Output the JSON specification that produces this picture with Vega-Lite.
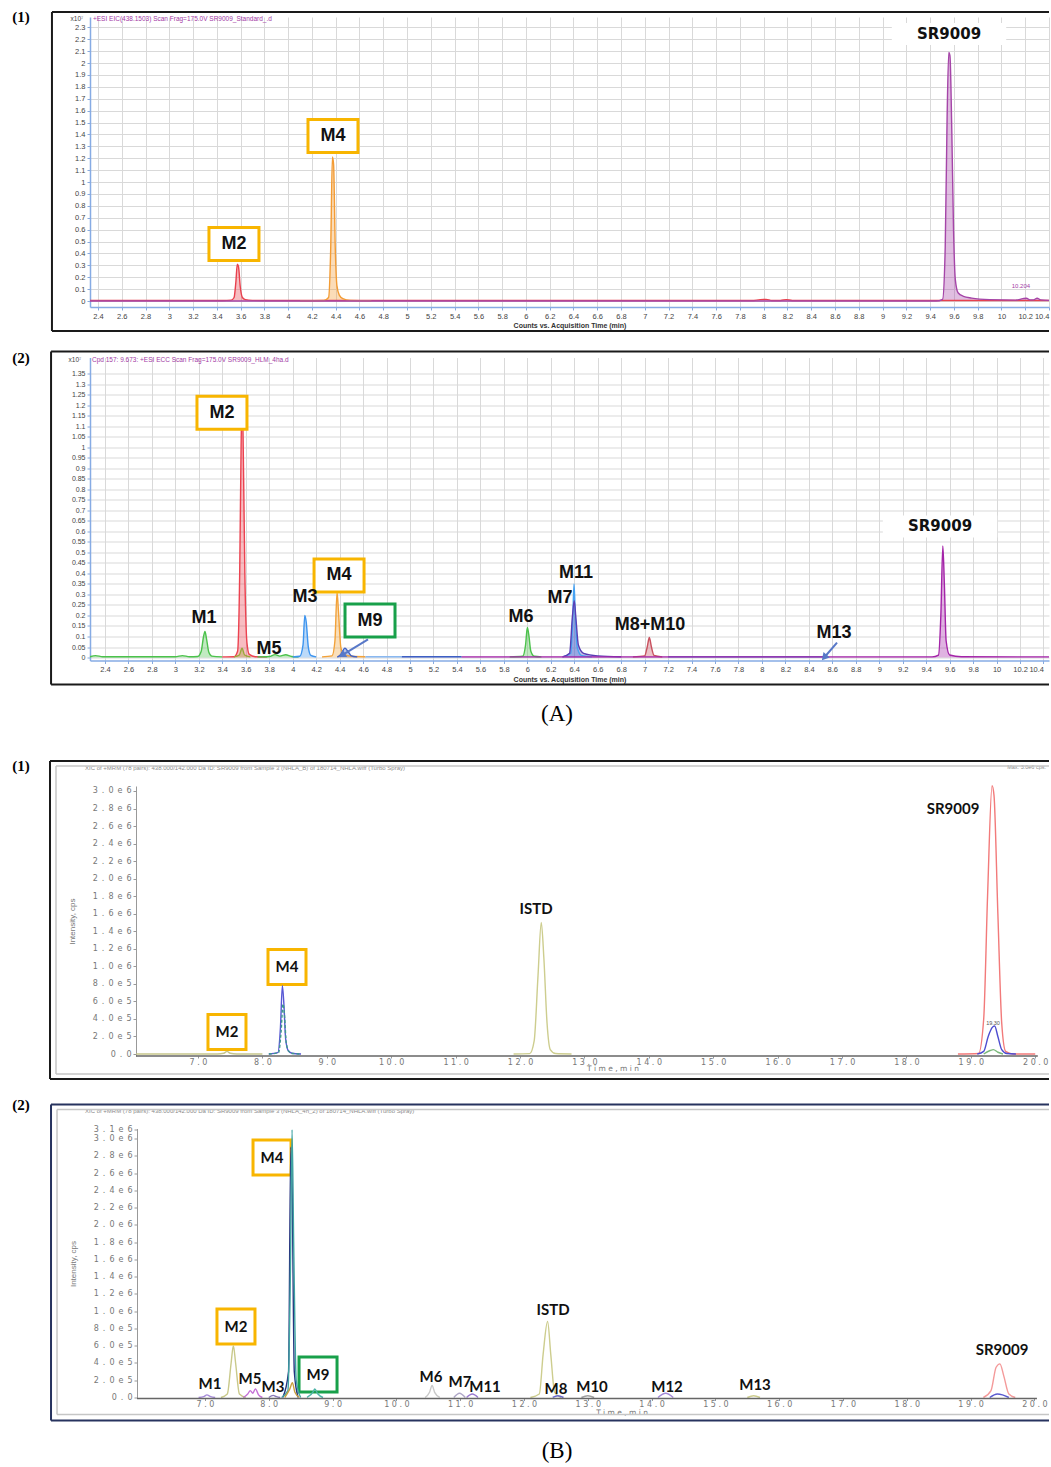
{
  "$schema": "https://vega.github.io/schema/vega-lite/v6.json",
  "background": "white",
  "padding": {"left": 12, "top": 10, "right": 0, "bottom": 0},
  "config": {
    "view": {"stroke": null},
    "font": "Liberation Sans",
    "axis": {"labelFont": "Liberation Sans", "titleFont": "Liberation Sans", "labelOverlap": false}
  },
  "spacing": 17.5,
  "resolve": {"scale": {"x": "independent", "y": "independent", "color": "independent", "stroke": "independent"}},
  "datasets": {
    "a1tr": [
      {"s":"M2","t":2.333,"v":0.004},{"s":"M2","t":3.45,"v":0.004},{"s":"M2","t":3.52,"v":0.008},{"s":"M2","t":3.545,"v":0.03},{"s":"M2","t":3.56,"v":0.16},{"s":"M2","t":3.572,"v":0.31},{"s":"M2","t":3.582,"v":0.29},{"s":"M2","t":3.597,"v":0.12},{"s":"M2","t":3.615,"v":0.03},{"s":"M2","t":3.64,"v":0.012},{"s":"M2","t":3.7,"v":0.006},{"s":"M2","t":3.9,"v":0.004},{"s":"M2","t":7.9,"v":0.004},{"s":"M2","t":7.97,"v":0.012},{"s":"M2","t":8.02,"v":0.014},{"s":"M2","t":8.07,"v":0.005},{"s":"M2","t":8.14,"v":0.005},{"s":"M2","t":8.19,"v":0.012},{"s":"M2","t":8.24,"v":0.005},{"s":"M2","t":10.4,"v":0.004},
      {"s":"M4","t":4.1,"v":0.003},{"s":"M4","t":4.3,"v":0.005},{"s":"M4","t":4.34,"v":0.03},{"s":"M4","t":4.358,"v":0.45},{"s":"M4","t":4.372,"v":1.21},{"s":"M4","t":4.382,"v":1.15},{"s":"M4","t":4.396,"v":0.45},{"s":"M4","t":4.41,"v":0.13},{"s":"M4","t":4.43,"v":0.05},{"s":"M4","t":4.46,"v":0.02},{"s":"M4","t":4.52,"v":0.006},{"s":"M4","t":4.7,"v":0.003},
      {"s":"SR9009","t":2.333,"v":0},{"s":"SR9009","t":9.45,"v":0},{"s":"SR9009","t":9.505,"v":0.015},{"s":"SR9009","t":9.527,"v":0.45},{"s":"SR9009","t":9.543,"v":1.55},{"s":"SR9009","t":9.557,"v":2.09},{"s":"SR9009","t":9.567,"v":2.06},{"s":"SR9009","t":9.582,"v":1.45},{"s":"SR9009","t":9.597,"v":0.6},{"s":"SR9009","t":9.612,"v":0.18},{"s":"SR9009","t":9.635,"v":0.07},{"s":"SR9009","t":9.68,"v":0.04},{"s":"SR9009","t":9.75,"v":0.025},{"s":"SR9009","t":9.9,"v":0.012},{"s":"SR9009","t":10.12,"v":0.008},{"s":"SR9009","t":10.18,"v":0.02},{"s":"SR9009","t":10.21,"v":0.024},{"s":"SR9009","t":10.24,"v":0.01},{"s":"SR9009","t":10.27,"v":0.01},{"s":"SR9009","t":10.3,"v":0.024},{"s":"SR9009","t":10.33,"v":0.01},{"s":"SR9009","t":10.4,"v":0.006}
    ],
    "a1lab": [
      {"label":"M2","t":3.544,"v":0.479,"group":"major"},
      {"label":"M4","t":4.377,"v":1.387,"group":"major"},
      {"label":"SR9009","t":9.559,"v":2.244,"group":"parent"}
    ],
    "a1note": [
      {"text":"+ESI EIC(438.1503) Scan Frag=175.0V SR9009_Standard_.d","t":2.358,"v":2.37,"kind":"header"},
      {"text":"x10⁷","t":2.224,"v":2.37,"kind":"scale"},
      {"text":"10.204","t":10.164,"v":0.126,"kind":"rt"}
    ],
    "a2tr": [
      {"s":"M1","t":2.272,"v":0.004},{"s":"M1","t":2.32,"v":0.009},{"s":"M1","t":2.38,"v":0.004},{"s":"M1","t":3.0,"v":0.004},{"s":"M1","t":3.06,"v":0.009},{"s":"M1","t":3.12,"v":0.004},{"s":"M1","t":3.19,"v":0.005},{"s":"M1","t":3.22,"v":0.03},{"s":"M1","t":3.24,"v":0.1},{"s":"M1","t":3.252,"v":0.124},{"s":"M1","t":3.265,"v":0.09},{"s":"M1","t":3.285,"v":0.025},{"s":"M1","t":3.31,"v":0.007},{"s":"M1","t":3.4,"v":0.003},
      {"s":"M2","t":3.4,"v":0.003},{"s":"M2","t":3.5,"v":0.004},{"s":"M2","t":3.53,"v":0.03},{"s":"M2","t":3.548,"v":0.4},{"s":"M2","t":3.56,"v":1.0},{"s":"M2","t":3.568,"v":1.24},{"s":"M2","t":3.577,"v":1.05},{"s":"M2","t":3.592,"v":0.4},{"s":"M2","t":3.61,"v":0.07},{"s":"M2","t":3.63,"v":0.015},{"s":"M2","t":3.68,"v":0.004},{"s":"M2","t":3.78,"v":0.003},
      {"s":"M2 (2)","t":3.5,"v":0.003},{"s":"M2 (2)","t":3.545,"v":0.012},{"s":"M2 (2)","t":3.568,"v":0.045},{"s":"M2 (2)","t":3.59,"v":0.012},{"s":"M2 (2)","t":3.64,"v":0.003},
      {"s":"M5","t":3.7,"v":0.003},{"s":"M5","t":3.8,"v":0.005},{"s":"M5","t":3.85,"v":0.014},{"s":"M5","t":3.89,"v":0.007},{"s":"M5","t":3.94,"v":0.013},{"s":"M5","t":3.99,"v":0.005},{"s":"M5","t":4.05,"v":0.003},
      {"s":"M3","t":4.0,"v":0.003},{"s":"M3","t":4.06,"v":0.006},{"s":"M3","t":4.088,"v":0.06},{"s":"M3","t":4.103,"v":0.2},{"s":"M3","t":4.115,"v":0.17},{"s":"M3","t":4.133,"v":0.05},{"s":"M3","t":4.155,"v":0.01},{"s":"M3","t":4.2,"v":0.003},
      {"s":"M4","t":4.25,"v":0.003},{"s":"M4","t":4.335,"v":0.008},{"s":"M4","t":4.36,"v":0.08},{"s":"M4","t":4.378,"v":0.31},{"s":"M4","t":4.39,"v":0.22},{"s":"M4","t":4.41,"v":0.05},{"s":"M4","t":4.435,"v":0.015},{"s":"M4","t":4.5,"v":0.006},{"s":"M4","t":4.62,"v":0.004},
      {"s":"M9","t":4.38,"v":0.002},{"s":"M9","t":4.41,"v":0.015},{"s":"M9","t":4.445,"v":0.045},{"s":"M9","t":4.47,"v":0.03},{"s":"M9","t":4.5,"v":0.008},{"s":"M9","t":4.55,"v":0.003},
      {"s":"M9 (2)","t":4.62,"v":0.004},{"s":"M9 (2)","t":4.93,"v":0.004},
      {"s":"M9 (3)","t":4.93,"v":0.004},{"s":"M9 (3)","t":5.44,"v":0.004},
      {"s":"M6","t":5.85,"v":0.003},{"s":"M6","t":5.96,"v":0.006},{"s":"M6","t":5.985,"v":0.06},{"s":"M6","t":6.0,"v":0.143},{"s":"M6","t":6.012,"v":0.11},{"s":"M6","t":6.03,"v":0.03},{"s":"M6","t":6.06,"v":0.006},{"s":"M6","t":6.12,"v":0.003},
      {"s":"M11","t":6.3,"v":0.003},{"s":"M11","t":6.37,"v":0.02},{"s":"M11","t":6.388,"v":0.2},{"s":"M11","t":6.398,"v":0.35},{"s":"M11","t":6.408,"v":0.22},{"s":"M11","t":6.425,"v":0.05},{"s":"M11","t":6.46,"v":0.01},{"s":"M11","t":6.55,"v":0.003},
      {"s":"M7","t":6.3,"v":0.003},{"s":"M7","t":6.36,"v":0.02},{"s":"M7","t":6.385,"v":0.2},{"s":"M7","t":6.4,"v":0.27},{"s":"M7","t":6.415,"v":0.18},{"s":"M7","t":6.435,"v":0.06},{"s":"M7","t":6.48,"v":0.02},{"s":"M7","t":6.6,"v":0.008},{"s":"M7","t":6.8,"v":0.004},
      {"s":"M8+M10","t":6.9,"v":0.003},{"s":"M8+M10","t":7.0,"v":0.008},{"s":"M8+M10","t":7.022,"v":0.05},{"s":"M8+M10","t":7.04,"v":0.095},{"s":"M8+M10","t":7.058,"v":0.05},{"s":"M8+M10","t":7.08,"v":0.01},{"s":"M8+M10","t":7.15,"v":0.003},
      {"s":"M13","t":7.2,"v":0.004},{"s":"M13","t":8.56,"v":0.004},
      {"s":"SR9009","t":5.44,"v":0.003},{"s":"SR9009","t":9.45,"v":0.003},{"s":"SR9009","t":9.505,"v":0.012},{"s":"SR9009","t":9.525,"v":0.2},{"s":"SR9009","t":9.542,"v":0.53},{"s":"SR9009","t":9.555,"v":0.35},{"s":"SR9009","t":9.57,"v":0.08},{"s":"SR9009","t":9.6,"v":0.012},{"s":"SR9009","t":9.7,"v":0.004},{"s":"SR9009","t":10.447,"v":0.003}
    ],
    "a2lab": [
      {"label":"M2","t":3.397,"v":1.164,"group":"major"},
      {"label":"M4","t":4.395,"v":0.39,"group":"major"},
      {"label":"M9","t":4.659,"v":0.176,"group":"novel"},
      {"label":"M1","t":3.244,"v":0.19,"group":"other"},
      {"label":"M3","t":4.105,"v":0.29,"group":"other"},
      {"label":"M5","t":3.798,"v":0.043,"group":"other"},
      {"label":"M6","t":5.946,"v":0.195,"group":"other"},
      {"label":"M11","t":6.415,"v":0.4,"group":"other"},
      {"label":"M7","t":6.279,"v":0.285,"group":"other"},
      {"label":"M8+M10","t":7.046,"v":0.157,"group":"other"},
      {"label":"M13","t":8.615,"v":0.119,"group":"other"},
      {"label":"SR9009","t":9.518,"v":0.623,"group":"parent"}
    ],
    "a2note": [
      {"text":"Cpd 157: 9.673: +ESI ECC Scan Frag=175.0V SR9009_HLM_4ha.d","t":2.289,"v":1.416,"kind":"header"},
      {"text":"x10⁷","t":2.144,"v":1.416,"kind":"scale"}
    ],
    "a2arrow": [
      {"to":"M9","t":4.642,"v":0.086,"t2":4.429,"v2":0.014},
      {"to":"M13","t":8.64,"v":0.071,"t2":8.538,"v2":0.005}
    ],
    "b1tr": [
      {"s":"M2","t":6.04,"v":0},{"s":"M2","t":7.3,"v":0},{"s":"M2","t":7.4,"v":8000},{"s":"M2","t":7.45,"v":30000},{"s":"M2","t":7.5,"v":8000},{"s":"M2","t":7.6,"v":0},{"s":"M2","t":8.0,"v":0},
      {"s":"M4","t":8.1,"v":0},{"s":"M4","t":8.24,"v":15000},{"s":"M4","t":8.28,"v":300000},{"s":"M4","t":8.31,"v":780000},{"s":"M4","t":8.335,"v":550000},{"s":"M4","t":8.36,"v":180000},{"s":"M4","t":8.4,"v":40000},{"s":"M4","t":8.46,"v":8000},{"s":"M4","t":8.6,"v":0},
      {"s":"M4 (2)","t":8.1,"v":0},{"s":"M4 (2)","t":8.25,"v":15000},{"s":"M4 (2)","t":8.29,"v":250000},{"s":"M4 (2)","t":8.32,"v":570000},{"s":"M4 (2)","t":8.345,"v":420000},{"s":"M4 (2)","t":8.37,"v":130000},{"s":"M4 (2)","t":8.41,"v":30000},{"s":"M4 (2)","t":8.47,"v":6000},{"s":"M4 (2)","t":8.6,"v":0},
      {"s":"ISTD","t":11.9,"v":0},{"s":"ISTD","t":12.15,"v":4000},{"s":"ISTD","t":12.22,"v":150000},{"s":"ISTD","t":12.28,"v":900000},{"s":"ISTD","t":12.33,"v":1500000},{"s":"ISTD","t":12.37,"v":1100000},{"s":"ISTD","t":12.42,"v":350000},{"s":"ISTD","t":12.47,"v":50000},{"s":"ISTD","t":12.55,"v":5000},{"s":"ISTD","t":12.8,"v":0},
      {"s":"SR9009","t":18.8,"v":0},{"s":"SR9009","t":19.12,"v":6000},{"s":"SR9009","t":19.2,"v":400000},{"s":"SR9009","t":19.26,"v":1800000},{"s":"SR9009","t":19.33,"v":3060000},{"s":"SR9009","t":19.36,"v":2950000},{"s":"SR9009","t":19.42,"v":1600000},{"s":"SR9009","t":19.48,"v":350000},{"s":"SR9009","t":19.54,"v":30000},{"s":"SR9009","t":19.65,"v":0},{"s":"SR9009","t":20.0,"v":0},
      {"s":"SR9009 (2)","t":19.1,"v":0},{"s":"SR9009 (2)","t":19.2,"v":30000},{"s":"SR9009 (2)","t":19.27,"v":200000},{"s":"SR9009 (2)","t":19.33,"v":300000},{"s":"SR9009 (2)","t":19.37,"v":320000},{"s":"SR9009 (2)","t":19.42,"v":200000},{"s":"SR9009 (2)","t":19.48,"v":50000},{"s":"SR9009 (2)","t":19.56,"v":5000},{"s":"SR9009 (2)","t":19.7,"v":0},
      {"s":"SR9009 (3)","t":19.2,"v":0},{"s":"SR9009 (3)","t":19.3,"v":40000},{"s":"SR9009 (3)","t":19.35,"v":50000},{"s":"SR9009 (3)","t":19.42,"v":20000},{"s":"SR9009 (3)","t":19.5,"v":0}
    ],
    "b1lab": [
      {"label":"M2","t":7.45,"v":251000,"group":"major"},
      {"label":"M4","t":8.382,"v":992000,"group":"major"},
      {"label":"ISTD","t":12.249,"v":1654000,"group":"other"},
      {"label":"SR9009","t":18.724,"v":2795000,"group":"other"}
    ],
    "b1note": [
      {"text":"XIC of +MRM (78 pairs): 438.000/142.000 Da ID: SR9009 from Sample 3 (NHLA_B) of 180714_NHLA.wiff (Turbo Spray)","t":5.245,"v":3262000,"kind":"header"},
      {"text":"Max. 3.0e6 cps.","t":20.168,"v":3274000,"kind":"max"},
      {"text":"19.30","t":19.345,"v":354000,"kind":"rt"},
      {"text":"T i m e ,  m i n","t":13.444,"v":-175000,"kind":"axis"}
    ],
    "b2tr": [
      {"s":"M1","t":6.9,"v":0},{"s":"M1","t":6.98,"v":10000},{"s":"M1","t":7.03,"v":30000},{"s":"M1","t":7.09,"v":10000},{"s":"M1","t":7.16,"v":0},
      {"s":"M2","t":7.25,"v":0},{"s":"M2","t":7.35,"v":40000},{"s":"M2","t":7.41,"v":400000},{"s":"M2","t":7.445,"v":600000},{"s":"M2","t":7.48,"v":400000},{"s":"M2","t":7.54,"v":40000},{"s":"M2","t":7.64,"v":0},
      {"s":"M5","t":7.6,"v":0},{"s":"M5","t":7.67,"v":40000},{"s":"M5","t":7.71,"v":80000},{"s":"M5","t":7.75,"v":50000},{"s":"M5","t":7.79,"v":100000},{"s":"M5","t":7.84,"v":30000},{"s":"M5","t":7.9,"v":0},
      {"s":"M3","t":8.0,"v":0},{"s":"M3","t":8.07,"v":25000},{"s":"M3","t":8.12,"v":10000},{"s":"M3","t":8.18,"v":0},
      {"s":"M4 (2)","t":8.22,"v":0},{"s":"M4 (2)","t":8.31,"v":300000},{"s":"M4 (2)","t":8.345,"v":2900000},{"s":"M4 (2)","t":8.365,"v":2500000},{"s":"M4 (2)","t":8.4,"v":300000},{"s":"M4 (2)","t":8.46,"v":0},
      {"s":"M4","t":8.2,"v":0},{"s":"M4","t":8.3,"v":80000},{"s":"M4","t":8.34,"v":1500000},{"s":"M4","t":8.365,"v":3100000},{"s":"M4","t":8.39,"v":1800000},{"s":"M4","t":8.43,"v":200000},{"s":"M4","t":8.5,"v":0},
      {"s":"M4 (3)","t":8.25,"v":0},{"s":"M4 (3)","t":8.33,"v":100000},{"s":"M4 (3)","t":8.37,"v":170000},{"s":"M4 (3)","t":8.41,"v":60000},{"s":"M4 (3)","t":8.48,"v":0},
      {"s":"M9","t":8.6,"v":0},{"s":"M9","t":8.7,"v":70000},{"s":"M9","t":8.72,"v":100000},{"s":"M9","t":8.77,"v":40000},{"s":"M9","t":8.85,"v":0},
      {"s":"M6","t":10.45,"v":0},{"s":"M6","t":10.52,"v":60000},{"s":"M6","t":10.56,"v":140000},{"s":"M6","t":10.6,"v":60000},{"s":"M6","t":10.68,"v":0},
      {"s":"M7","t":10.9,"v":0},{"s":"M7","t":10.99,"v":50000},{"s":"M7","t":11.08,"v":0},
      {"s":"M11","t":11.1,"v":0},{"s":"M11","t":11.19,"v":40000},{"s":"M11","t":11.28,"v":0},
      {"s":"ISTD","t":12.1,"v":0},{"s":"ISTD","t":12.24,"v":40000},{"s":"ISTD","t":12.3,"v":500000},{"s":"ISTD","t":12.37,"v":880000},{"s":"ISTD","t":12.42,"v":500000},{"s":"ISTD","t":12.48,"v":60000},{"s":"ISTD","t":12.58,"v":0},
      {"s":"M8","t":12.45,"v":0},{"s":"M8","t":12.53,"v":20000},{"s":"M8","t":12.62,"v":0},
      {"s":"M10","t":12.9,"v":0},{"s":"M10","t":13.0,"v":20000},{"s":"M10","t":13.1,"v":0},
      {"s":"M12","t":14.1,"v":0},{"s":"M12","t":14.22,"v":50000},{"s":"M12","t":14.34,"v":0},
      {"s":"M13","t":15.5,"v":0},{"s":"M13","t":15.6,"v":20000},{"s":"M13","t":15.7,"v":0},
      {"s":"SR9009","t":19.2,"v":0},{"s":"SR9009","t":19.32,"v":80000},{"s":"SR9009","t":19.4,"v":350000},{"s":"SR9009","t":19.46,"v":390000},{"s":"SR9009","t":19.52,"v":250000},{"s":"SR9009","t":19.6,"v":40000},{"s":"SR9009","t":19.7,"v":0},
      {"s":"SR9009 (2)","t":19.3,"v":0},{"s":"SR9009 (2)","t":19.42,"v":40000},{"s":"SR9009 (2)","t":19.5,"v":30000},{"s":"SR9009 (2)","t":19.6,"v":0}
    ],
    "b2lab": [
      {"label":"M4","t":8.051,"v":2780000,"group":"major"},
      {"label":"M2","t":7.486,"v":822000,"group":"major"},
      {"label":"M9","t":8.772,"v":266000,"group":"novel"},
      {"label":"M1","t":7.079,"v":162000,"group":"other"},
      {"label":"M5","t":7.706,"v":209000,"group":"other"},
      {"label":"M3","t":8.066,"v":116000,"group":"other"},
      {"label":"M6","t":10.543,"v":243000,"group":"other"},
      {"label":"M7","t":10.997,"v":174000,"group":"other"},
      {"label":"M11","t":11.389,"v":127000,"group":"other"},
      {"label":"ISTD","t":12.455,"v":1008000,"group":"other"},
      {"label":"M8","t":12.502,"v":93000,"group":"other"},
      {"label":"M10","t":13.066,"v":116000,"group":"other"},
      {"label":"M12","t":14.242,"v":127000,"group":"other"},
      {"label":"M13","t":15.621,"v":139000,"group":"other"},
      {"label":"SR9009","t":19.493,"v":556000,"group":"other"}
    ],
    "b2note": [
      {"text":"XIC of +MRM (78 pairs): 438.000/142.000 Da ID: SR9009 from Sample 3 (NHLA_4h_2) of 180714_NHLA.wiff (Turbo Spray)","t":5.12,"v":3313000,"kind":"header"},
      {"text":"T i m e ,  m i n","t":13.537,"v":-185000,"kind":"axis"}
    ]
  },
  "vconcat": [
    {
      "width": 959,
      "height": 290,
      "layer": [
        {"data": {"name": "a1tr"},
         "mark": {"type": "area", "interpolate": "monotone", "fillOpacity": 0.35, "line": {"strokeWidth": 1.4}},
         "encoding": {
           "x": {"field": "t", "type": "quantitative",
             "scale": {"domain": [2.333, 10.4], "nice": false, "zero": false},
             "axis": {"values": [2.4,2.6,2.8,3,3.2,3.4,3.6,3.8,4,4.2,4.4,4.6,4.8,5,5.2,5.4,5.6,5.8,6,6.2,6.4,6.6,6.8,7,7.2,7.4,7.6,7.8,8,8.2,8.4,8.6,8.8,9,9.2,9.4,9.6,9.8,10,10.2,10.4],
               "format": "~g", "title": "Counts vs. Acquisition Time (min)", "titleFontSize": 7, "titleFontWeight": "bold", "titleColor": "#333", "titlePadding": 2,
               "labelFontSize": 7.5, "labelColor": "#444", "labelPadding": 2, "labelFlush": 6, "tickSize": 3, "tickColor": "#88aadd",
               "domainColor": "#86abe4", "domainWidth": 1.5, "grid": true, "gridColor": "#d9d9d9", "gridWidth": 1}},
           "y": {"field": "v", "type": "quantitative", "stack": null,
             "scale": {"domain": [-0.05, 2.387], "nice": false, "zero": false},
             "axis": {"values": [0,0.1,0.2,0.3,0.4,0.5,0.6,0.7,0.8,0.9,1,1.1,1.2,1.3,1.4,1.5,1.6,1.7,1.8,1.9,2,2.1,2.2,2.3],
               "format": "~g", "title": null, "labelFontSize": 7.5, "labelColor": "#444", "labelPadding": 2, "labelFlush": false,
               "tickSize": 3, "tickColor": "#88aadd", "domainColor": "#86abe4", "domainWidth": 1.5, "grid": true, "gridColor": "#d9d9d9", "gridWidth": 1}},
           "color": {"field": "s", "type": "nominal", "scale": {"domain": ["M2", "M4", "SR9009"], "range": ["#e8414e", "#f39c35", "#a545a8"]}, "legend": null}}},
        {"data": {"name": "a1lab"}, "transform": [{"filter": "datum.group == 'major' || datum.group == 'novel'"}],
         "mark": {"type": "point", "shape": "M-1.515,-1H1.515V1H-1.515Z", "size": 1089, "filled": true, "fill": "white", "strokeWidth": 3, "opacity": 1},
         "encoding": {"x": {"field": "t", "type": "quantitative", "axis": {"values": [2.4,2.6,2.8,3,3.2,3.4,3.6,3.8,4,4.2,4.4,4.6,4.8,5,5.2,5.4,5.6,5.8,6,6.2,6.4,6.6,6.8,7,7.2,7.4,7.6,7.8,8,8.2,8.4,8.6,8.8,9,9.2,9.4,9.6,9.8,10,10.2,10.4]}},
           "y": {"field": "v", "type": "quantitative", "axis": {"values": [0,0.1,0.2,0.3,0.4,0.5,0.6,0.7,0.8,0.9,1,1.1,1.2,1.3,1.4,1.5,1.6,1.7,1.8,1.9,2,2.1,2.2,2.3]}},
           "stroke": {"field": "group", "type": "nominal", "scale": {"domain": ["major", "novel"], "range": ["#f8b500", "#18a04a"]}, "legend": null}}},
        {"data": {"name": "a1lab"}, "transform": [{"filter": "datum.group == 'parent'"}],
         "mark": {"type": "point", "shape": "M-5.2,-1H5.2V1H-5.2Z", "size": 484, "filled": true, "fill": "white", "strokeWidth": 0, "opacity": 1},
         "encoding": {"x": {"field": "t", "type": "quantitative", "axis": {"values": [2.4,2.6,2.8,3,3.2,3.4,3.6,3.8,4,4.2,4.4,4.6,4.8,5,5.2,5.4,5.6,5.8,6,6.2,6.4,6.6,6.8,7,7.2,7.4,7.6,7.8,8,8.2,8.4,8.6,8.8,9,9.2,9.4,9.6,9.8,10,10.2,10.4]}},
           "y": {"field": "v", "type": "quantitative", "axis": {"values": [0,0.1,0.2,0.3,0.4,0.5,0.6,0.7,0.8,0.9,1,1.1,1.2,1.3,1.4,1.5,1.6,1.7,1.8,1.9,2,2.1,2.2,2.3]}}}},
        {"data": {"name": "a1lab"}, "transform": [{"filter": "datum.group != 'parent'"}],
         "mark": {"type": "text", "font": "Liberation Sans", "fontWeight": "bold", "fontSize": 18, "color": "#111"},
         "encoding": {"x": {"field": "t", "type": "quantitative", "axis": {"values": [2.4,2.6,2.8,3,3.2,3.4,3.6,3.8,4,4.2,4.4,4.6,4.8,5,5.2,5.4,5.6,5.8,6,6.2,6.4,6.6,6.8,7,7.2,7.4,7.6,7.8,8,8.2,8.4,8.6,8.8,9,9.2,9.4,9.6,9.8,10,10.2,10.4]}},
           "y": {"field": "v", "type": "quantitative", "axis": {"values": [0,0.1,0.2,0.3,0.4,0.5,0.6,0.7,0.8,0.9,1,1.1,1.2,1.3,1.4,1.5,1.6,1.7,1.8,1.9,2,2.1,2.2,2.3]}},
           "text": {"field": "label", "type": "nominal"}}},
        {"data": {"name": "a1lab"}, "transform": [{"filter": "datum.group == 'parent'"}],
         "mark": {"type": "text", "font": "DejaVu Sans", "fontWeight": "bold", "fontSize": 15, "color": "#111"},
         "encoding": {"x": {"field": "t", "type": "quantitative", "axis": {"values": [2.4,2.6,2.8,3,3.2,3.4,3.6,3.8,4,4.2,4.4,4.6,4.8,5,5.2,5.4,5.6,5.8,6,6.2,6.4,6.6,6.8,7,7.2,7.4,7.6,7.8,8,8.2,8.4,8.6,8.8,9,9.2,9.4,9.6,9.8,10,10.2,10.4]}},
           "y": {"field": "v", "type": "quantitative", "axis": {"values": [0,0.1,0.2,0.3,0.4,0.5,0.6,0.7,0.8,0.9,1,1.1,1.2,1.3,1.4,1.5,1.6,1.7,1.8,1.9,2,2.1,2.2,2.3]}},
           "text": {"field": "label", "type": "nominal"}}},
        {"data": {"name": "a1note"}, "transform": [{"filter": "datum.kind == 'header'"}],
         "mark": {"type": "text", "align": "left", "fontSize": 6.5, "color": "#a23aa5"},
         "encoding": {"x": {"field": "t", "type": "quantitative", "axis": {"values": [2.4,2.6,2.8,3,3.2,3.4,3.6,3.8,4,4.2,4.4,4.6,4.8,5,5.2,5.4,5.6,5.8,6,6.2,6.4,6.6,6.8,7,7.2,7.4,7.6,7.8,8,8.2,8.4,8.6,8.8,9,9.2,9.4,9.6,9.8,10,10.2,10.4]}},
           "y": {"field": "v", "type": "quantitative", "axis": {"values": [0,0.1,0.2,0.3,0.4,0.5,0.6,0.7,0.8,0.9,1,1.1,1.2,1.3,1.4,1.5,1.6,1.7,1.8,1.9,2,2.1,2.2,2.3]}},
           "text": {"field": "text", "type": "nominal"}}},
        {"data": {"name": "a1note"}, "transform": [{"filter": "datum.kind == 'scale'"}],
         "mark": {"type": "text", "fontSize": 6.5, "color": "#444"},
         "encoding": {"x": {"field": "t", "type": "quantitative", "axis": {"values": [2.4,2.6,2.8,3,3.2,3.4,3.6,3.8,4,4.2,4.4,4.6,4.8,5,5.2,5.4,5.6,5.8,6,6.2,6.4,6.6,6.8,7,7.2,7.4,7.6,7.8,8,8.2,8.4,8.6,8.8,9,9.2,9.4,9.6,9.8,10,10.2,10.4]}},
           "y": {"field": "v", "type": "quantitative", "axis": {"values": [0,0.1,0.2,0.3,0.4,0.5,0.6,0.7,0.8,0.9,1,1.1,1.2,1.3,1.4,1.5,1.6,1.7,1.8,1.9,2,2.1,2.2,2.3]}},
           "text": {"field": "text", "type": "nominal"}}},
        {"data": {"name": "a1note"}, "transform": [{"filter": "datum.kind == 'rt'"}],
         "mark": {"type": "text", "fontSize": 6, "color": "#a23aa5"},
         "encoding": {"x": {"field": "t", "type": "quantitative", "axis": {"values": [2.4,2.6,2.8,3,3.2,3.4,3.6,3.8,4,4.2,4.4,4.6,4.8,5,5.2,5.4,5.6,5.8,6,6.2,6.4,6.6,6.8,7,7.2,7.4,7.6,7.8,8,8.2,8.4,8.6,8.8,9,9.2,9.4,9.6,9.8,10,10.2,10.4]}},
           "y": {"field": "v", "type": "quantitative", "axis": {"values": [0,0.1,0.2,0.3,0.4,0.5,0.6,0.7,0.8,0.9,1,1.1,1.2,1.3,1.4,1.5,1.6,1.7,1.8,1.9,2,2.1,2.2,2.3]}},
           "text": {"field": "text", "type": "nominal"}}},
        {"data": {"values": [{}]}, "mark": {"type": "rule", "color": "#1a1a1a", "strokeWidth": 2},
         "encoding": {"x": {"datum": 2.013, "type": "quantitative", "axis": {"values": [2.4,2.6,2.8,3,3.2,3.4,3.6,3.8,4,4.2,4.4,4.6,4.8,5,5.2,5.4,5.6,5.8,6,6.2,6.4,6.6,6.8,7,7.2,7.4,7.6,7.8,8,8.2,8.4,8.6,8.8,9,9.2,9.4,9.6,9.8,10,10.2,10.4]}}, "x2": {"datum": 10.4},
           "y": {"datum": 2.429, "type": "quantitative", "axis": {"values": [0,0.1,0.2,0.3,0.4,0.5,0.6,0.7,0.8,0.9,1,1.1,1.2,1.3,1.4,1.5,1.6,1.7,1.8,1.9,2,2.1,2.2,2.3]}}}},
        {"data": {"values": [{}]}, "mark": {"type": "rule", "color": "#1a1a1a", "strokeWidth": 2},
         "encoding": {"x": {"datum": 2.013, "type": "quantitative", "axis": {"values": [2.4,2.6,2.8,3,3.2,3.4,3.6,3.8,4,4.2,4.4,4.6,4.8,5,5.2,5.4,5.6,5.8,6,6.2,6.4,6.6,6.8,7,7.2,7.4,7.6,7.8,8,8.2,8.4,8.6,8.8,9,9.2,9.4,9.6,9.8,10,10.2,10.4]}}, "x2": {"datum": 10.4},
           "y": {"datum": -0.252, "type": "quantitative", "axis": {"values": [0,0.1,0.2,0.3,0.4,0.5,0.6,0.7,0.8,0.9,1,1.1,1.2,1.3,1.4,1.5,1.6,1.7,1.8,1.9,2,2.1,2.2,2.3]}}}},
        {"data": {"values": [{}]}, "mark": {"type": "rule", "color": "#1a1a1a", "strokeWidth": 2},
         "encoding": {"x": {"datum": 2.013, "type": "quantitative", "axis": {"values": [2.4,2.6,2.8,3,3.2,3.4,3.6,3.8,4,4.2,4.4,4.6,4.8,5,5.2,5.4,5.6,5.8,6,6.2,6.4,6.6,6.8,7,7.2,7.4,7.6,7.8,8,8.2,8.4,8.6,8.8,9,9.2,9.4,9.6,9.8,10,10.2,10.4]}},
           "y": {"datum": -0.252, "type": "quantitative", "axis": {"values": [0,0.1,0.2,0.3,0.4,0.5,0.6,0.7,0.8,0.9,1,1.1,1.2,1.3,1.4,1.5,1.6,1.7,1.8,1.9,2,2.1,2.2,2.3]}}, "y2": {"datum": 2.429}}},
        {"data": {"values": [{}]}, "mark": {"type": "text", "text": "(1)", "font": "Liberation Serif", "fontSize": 15, "fontWeight": "bold", "color": "#000"},
         "encoding": {"x": {"datum": 1.753, "type": "quantitative", "axis": {"values": [2.4,2.6,2.8,3,3.2,3.4,3.6,3.8,4,4.2,4.4,4.6,4.8,5,5.2,5.4,5.6,5.8,6,6.2,6.4,6.6,6.8,7,7.2,7.4,7.6,7.8,8,8.2,8.4,8.6,8.8,9,9.2,9.4,9.6,9.8,10,10.2,10.4]}},
           "y": {"datum": 2.387, "type": "quantitative", "axis": {"values": [0,0.1,0.2,0.3,0.4,0.5,0.6,0.7,0.8,0.9,1,1.1,1.2,1.3,1.4,1.5,1.6,1.7,1.8,1.9,2,2.1,2.2,2.3]}}}}
      ]
    },
    {
      "width": 959,
      "height": 303,
      "layer": [
        {"data": {"name": "a2tr"},
         "mark": {"type": "area", "interpolate": "monotone", "fillOpacity": 0.35, "line": {"strokeWidth": 1.4}},
         "encoding": {
           "x": {"field": "t", "type": "quantitative",
             "scale": {"domain": [2.272, 10.447], "nice": false, "zero": false},
             "axis": {"values": [2.4,2.6,2.8,3,3.2,3.4,3.6,3.8,4,4.2,4.4,4.6,4.8,5,5.2,5.4,5.6,5.8,6,6.2,6.4,6.6,6.8,7,7.2,7.4,7.6,7.8,8,8.2,8.4,8.6,8.8,9,9.2,9.4,9.6,9.8,10,10.2,10.4],
               "format": "~g", "title": "Counts vs. Acquisition Time (min)", "titleFontSize": 7, "titleFontWeight": "bold", "titleColor": "#333", "titlePadding": 2,
               "labelFontSize": 7.5, "labelColor": "#444", "labelPadding": 2, "labelFlush": 6, "tickSize": 3, "tickColor": "#88aadd",
               "domainColor": "#86abe4", "domainWidth": 1.5, "grid": true, "gridColor": "#d9d9d9", "gridWidth": 1}},
           "y": {"field": "v", "type": "quantitative", "stack": null,
             "scale": {"domain": [-0.014, 1.426], "nice": false, "zero": false},
             "axis": {"values": [0,0.05,0.1,0.15,0.2,0.25,0.3,0.35,0.4,0.45,0.5,0.55,0.6,0.65,0.7,0.75,0.8,0.85,0.9,0.95,1,1.05,1.1,1.15,1.2,1.25,1.3,1.35],
               "format": "~g", "title": null, "labelFontSize": 7, "labelColor": "#444", "labelPadding": 2, "labelFlush": false,
               "tickSize": 3, "tickColor": "#88aadd", "domainColor": "#86abe4", "domainWidth": 1.5, "grid": true, "gridColor": "#d9d9d9", "gridWidth": 1}},
           "color": {"field": "s", "type": "nominal",
             "scale": {"domain": ["M1","M2","M2 (2)","M5","M3","M4","M9","M9 (2)","M9 (3)","M6","M11","M7","M8+M10","M13","SR9009"],
                       "range": ["#4cc24c","#ec4250","#9aa83a","#4cc24c","#3e95ef","#f2a23a","#3e5fc4","#8ab8f0","#3e5fc4","#4cc24c","#46a2f2","#5a3fb5","#c8505e","#5a80d0","#a424a8"]},
             "legend": null}}},
        {"data": {"name": "a2lab"}, "transform": [{"filter": "datum.group == 'major' || datum.group == 'novel'"}],
         "mark": {"type": "point", "shape": "M-1.515,-1H1.515V1H-1.515Z", "size": 1089, "filled": true, "fill": "white", "strokeWidth": 3, "opacity": 1},
         "encoding": {"x": {"field": "t", "type": "quantitative", "axis": {"values": [2.4,2.6,2.8,3,3.2,3.4,3.6,3.8,4,4.2,4.4,4.6,4.8,5,5.2,5.4,5.6,5.8,6,6.2,6.4,6.6,6.8,7,7.2,7.4,7.6,7.8,8,8.2,8.4,8.6,8.8,9,9.2,9.4,9.6,9.8,10,10.2,10.4]}},
           "y": {"field": "v", "type": "quantitative", "axis": {"values": [0,0.05,0.1,0.15,0.2,0.25,0.3,0.35,0.4,0.45,0.5,0.55,0.6,0.65,0.7,0.75,0.8,0.85,0.9,0.95,1,1.05,1.1,1.15,1.2,1.25,1.3,1.35]}},
           "stroke": {"field": "group", "type": "nominal", "scale": {"domain": ["major", "novel"], "range": ["#f8b500", "#18a04a"]}, "legend": null}}},
        {"data": {"name": "a2lab"}, "transform": [{"filter": "datum.group == 'parent'"}],
         "mark": {"type": "point", "shape": "M-5.2,-1H5.2V1H-5.2Z", "size": 484, "filled": true, "fill": "white", "strokeWidth": 0, "opacity": 1},
         "encoding": {"x": {"field": "t", "type": "quantitative", "axis": {"values": [2.4,2.6,2.8,3,3.2,3.4,3.6,3.8,4,4.2,4.4,4.6,4.8,5,5.2,5.4,5.6,5.8,6,6.2,6.4,6.6,6.8,7,7.2,7.4,7.6,7.8,8,8.2,8.4,8.6,8.8,9,9.2,9.4,9.6,9.8,10,10.2,10.4]}},
           "y": {"field": "v", "type": "quantitative", "axis": {"values": [0,0.05,0.1,0.15,0.2,0.25,0.3,0.35,0.4,0.45,0.5,0.55,0.6,0.65,0.7,0.75,0.8,0.85,0.9,0.95,1,1.05,1.1,1.15,1.2,1.25,1.3,1.35]}}}},
        {"data": {"name": "a2arrow"},
         "mark": {"type": "rule", "color": "#5878c8", "strokeWidth": 2},
         "encoding": {"x": {"field": "t", "type": "quantitative", "axis": {"values": [2.4,2.6,2.8,3,3.2,3.4,3.6,3.8,4,4.2,4.4,4.6,4.8,5,5.2,5.4,5.6,5.8,6,6.2,6.4,6.6,6.8,7,7.2,7.4,7.6,7.8,8,8.2,8.4,8.6,8.8,9,9.2,9.4,9.6,9.8,10,10.2,10.4]}},
           "y": {"field": "v", "type": "quantitative", "axis": {"values": [0,0.05,0.1,0.15,0.2,0.25,0.3,0.35,0.4,0.45,0.5,0.55,0.6,0.65,0.7,0.75,0.8,0.85,0.9,0.95,1,1.05,1.1,1.15,1.2,1.25,1.3,1.35]}},
           "x2": {"field": "t2"}, "y2": {"field": "v2"}}},
        {"data": {"name": "a2arrow"}, "transform": [{"filter": "datum.to == 'M9'"}],
         "mark": {"type": "point", "shape": "triangle", "size": 70, "filled": true, "color": "#5878c8", "opacity": 1, "angle": 239},
         "encoding": {"x": {"field": "t2", "type": "quantitative", "axis": {"values": [2.4,2.6,2.8,3,3.2,3.4,3.6,3.8,4,4.2,4.4,4.6,4.8,5,5.2,5.4,5.6,5.8,6,6.2,6.4,6.6,6.8,7,7.2,7.4,7.6,7.8,8,8.2,8.4,8.6,8.8,9,9.2,9.4,9.6,9.8,10,10.2,10.4]}},
           "y": {"field": "v2", "type": "quantitative", "axis": {"values": [0,0.05,0.1,0.15,0.2,0.25,0.3,0.35,0.4,0.45,0.5,0.55,0.6,0.65,0.7,0.75,0.8,0.85,0.9,0.95,1,1.05,1.1,1.15,1.2,1.25,1.3,1.35]}}}},
        {"data": {"name": "a2arrow"}, "transform": [{"filter": "datum.to == 'M13'"}],
         "mark": {"type": "point", "shape": "triangle", "size": 70, "filled": true, "color": "#5878c8", "opacity": 1, "angle": 221},
         "encoding": {"x": {"field": "t2", "type": "quantitative", "axis": {"values": [2.4,2.6,2.8,3,3.2,3.4,3.6,3.8,4,4.2,4.4,4.6,4.8,5,5.2,5.4,5.6,5.8,6,6.2,6.4,6.6,6.8,7,7.2,7.4,7.6,7.8,8,8.2,8.4,8.6,8.8,9,9.2,9.4,9.6,9.8,10,10.2,10.4]}},
           "y": {"field": "v2", "type": "quantitative", "axis": {"values": [0,0.05,0.1,0.15,0.2,0.25,0.3,0.35,0.4,0.45,0.5,0.55,0.6,0.65,0.7,0.75,0.8,0.85,0.9,0.95,1,1.05,1.1,1.15,1.2,1.25,1.3,1.35]}}}},
        {"data": {"name": "a2lab"}, "transform": [{"filter": "datum.group != 'parent'"}],
         "mark": {"type": "text", "font": "Liberation Sans", "fontWeight": "bold", "fontSize": 18, "color": "#111"},
         "encoding": {"x": {"field": "t", "type": "quantitative", "axis": {"values": [2.4,2.6,2.8,3,3.2,3.4,3.6,3.8,4,4.2,4.4,4.6,4.8,5,5.2,5.4,5.6,5.8,6,6.2,6.4,6.6,6.8,7,7.2,7.4,7.6,7.8,8,8.2,8.4,8.6,8.8,9,9.2,9.4,9.6,9.8,10,10.2,10.4]}},
           "y": {"field": "v", "type": "quantitative", "axis": {"values": [0,0.05,0.1,0.15,0.2,0.25,0.3,0.35,0.4,0.45,0.5,0.55,0.6,0.65,0.7,0.75,0.8,0.85,0.9,0.95,1,1.05,1.1,1.15,1.2,1.25,1.3,1.35]}},
           "text": {"field": "label", "type": "nominal"}}},
        {"data": {"name": "a2lab"}, "transform": [{"filter": "datum.group == 'parent'"}],
         "mark": {"type": "text", "font": "DejaVu Sans", "fontWeight": "bold", "fontSize": 15, "color": "#111"},
         "encoding": {"x": {"field": "t", "type": "quantitative", "axis": {"values": [2.4,2.6,2.8,3,3.2,3.4,3.6,3.8,4,4.2,4.4,4.6,4.8,5,5.2,5.4,5.6,5.8,6,6.2,6.4,6.6,6.8,7,7.2,7.4,7.6,7.8,8,8.2,8.4,8.6,8.8,9,9.2,9.4,9.6,9.8,10,10.2,10.4]}},
           "y": {"field": "v", "type": "quantitative", "axis": {"values": [0,0.05,0.1,0.15,0.2,0.25,0.3,0.35,0.4,0.45,0.5,0.55,0.6,0.65,0.7,0.75,0.8,0.85,0.9,0.95,1,1.05,1.1,1.15,1.2,1.25,1.3,1.35]}},
           "text": {"field": "label", "type": "nominal"}}},
        {"data": {"name": "a2note"}, "transform": [{"filter": "datum.kind == 'header'"}],
         "mark": {"type": "text", "align": "left", "fontSize": 6.5, "color": "#a23aa5"},
         "encoding": {"x": {"field": "t", "type": "quantitative", "axis": {"values": [2.4,2.6,2.8,3,3.2,3.4,3.6,3.8,4,4.2,4.4,4.6,4.8,5,5.2,5.4,5.6,5.8,6,6.2,6.4,6.6,6.8,7,7.2,7.4,7.6,7.8,8,8.2,8.4,8.6,8.8,9,9.2,9.4,9.6,9.8,10,10.2,10.4]}},
           "y": {"field": "v", "type": "quantitative", "axis": {"values": [0,0.05,0.1,0.15,0.2,0.25,0.3,0.35,0.4,0.45,0.5,0.55,0.6,0.65,0.7,0.75,0.8,0.85,0.9,0.95,1,1.05,1.1,1.15,1.2,1.25,1.3,1.35]}},
           "text": {"field": "text", "type": "nominal"}}},
        {"data": {"name": "a2note"}, "transform": [{"filter": "datum.kind == 'scale'"}],
         "mark": {"type": "text", "fontSize": 6.5, "color": "#444"},
         "encoding": {"x": {"field": "t", "type": "quantitative", "axis": {"values": [2.4,2.6,2.8,3,3.2,3.4,3.6,3.8,4,4.2,4.4,4.6,4.8,5,5.2,5.4,5.6,5.8,6,6.2,6.4,6.6,6.8,7,7.2,7.4,7.6,7.8,8,8.2,8.4,8.6,8.8,9,9.2,9.4,9.6,9.8,10,10.2,10.4]}},
           "y": {"field": "v", "type": "quantitative", "axis": {"values": [0,0.05,0.1,0.15,0.2,0.25,0.3,0.35,0.4,0.45,0.5,0.55,0.6,0.65,0.7,0.75,0.8,0.85,0.9,0.95,1,1.05,1.1,1.15,1.2,1.25,1.3,1.35]}},
           "text": {"field": "text", "type": "nominal"}}},
        {"data": {"values": [{}]}, "mark": {"type": "rule", "color": "#1a1a1a", "strokeWidth": 2},
         "encoding": {"x": {"datum": 1.94, "type": "quantitative", "axis": {"values": [2.4,2.6,2.8,3,3.2,3.4,3.6,3.8,4,4.2,4.4,4.6,4.8,5,5.2,5.4,5.6,5.8,6,6.2,6.4,6.6,6.8,7,7.2,7.4,7.6,7.8,8,8.2,8.4,8.6,8.8,9,9.2,9.4,9.6,9.8,10,10.2,10.4]}}, "x2": {"datum": 10.447},
           "y": {"datum": 1.454, "type": "quantitative", "axis": {"values": [0,0.05,0.1,0.15,0.2,0.25,0.3,0.35,0.4,0.45,0.5,0.55,0.6,0.65,0.7,0.75,0.8,0.85,0.9,0.95,1,1.05,1.1,1.15,1.2,1.25,1.3,1.35]}}}},
        {"data": {"values": [{}]}, "mark": {"type": "rule", "color": "#1a1a1a", "strokeWidth": 2},
         "encoding": {"x": {"datum": 1.94, "type": "quantitative", "axis": {"values": [2.4,2.6,2.8,3,3.2,3.4,3.6,3.8,4,4.2,4.4,4.6,4.8,5,5.2,5.4,5.6,5.8,6,6.2,6.4,6.6,6.8,7,7.2,7.4,7.6,7.8,8,8.2,8.4,8.6,8.8,9,9.2,9.4,9.6,9.8,10,10.2,10.4]}}, "x2": {"datum": 10.447},
           "y": {"datum": -0.128, "type": "quantitative", "axis": {"values": [0,0.05,0.1,0.15,0.2,0.25,0.3,0.35,0.4,0.45,0.5,0.55,0.6,0.65,0.7,0.75,0.8,0.85,0.9,0.95,1,1.05,1.1,1.15,1.2,1.25,1.3,1.35]}}}},
        {"data": {"values": [{}]}, "mark": {"type": "rule", "color": "#1a1a1a", "strokeWidth": 2},
         "encoding": {"x": {"datum": 1.94, "type": "quantitative", "axis": {"values": [2.4,2.6,2.8,3,3.2,3.4,3.6,3.8,4,4.2,4.4,4.6,4.8,5,5.2,5.4,5.6,5.8,6,6.2,6.4,6.6,6.8,7,7.2,7.4,7.6,7.8,8,8.2,8.4,8.6,8.8,9,9.2,9.4,9.6,9.8,10,10.2,10.4]}},
           "y": {"datum": -0.128, "type": "quantitative", "axis": {"values": [0,0.05,0.1,0.15,0.2,0.25,0.3,0.35,0.4,0.45,0.5,0.55,0.6,0.65,0.7,0.75,0.8,0.85,0.9,0.95,1,1.05,1.1,1.15,1.2,1.25,1.3,1.35]}}, "y2": {"datum": 1.454}}},
        {"data": {"values": [{}]}, "mark": {"type": "text", "text": "(2)", "font": "Liberation Serif", "fontSize": 15, "fontWeight": "bold", "color": "#000"},
         "encoding": {"x": {"datum": 1.684, "type": "quantitative", "axis": {"values": [2.4,2.6,2.8,3,3.2,3.4,3.6,3.8,4,4.2,4.4,4.6,4.8,5,5.2,5.4,5.6,5.8,6,6.2,6.4,6.6,6.8,7,7.2,7.4,7.6,7.8,8,8.2,8.4,8.6,8.8,9,9.2,9.4,9.6,9.8,10,10.2,10.4]}},
           "y": {"datum": 1.426, "type": "quantitative", "axis": {"values": [0,0.05,0.1,0.15,0.2,0.25,0.3,0.35,0.4,0.45,0.5,0.55,0.6,0.65,0.7,0.75,0.8,0.85,0.9,0.95,1,1.05,1.1,1.15,1.2,1.25,1.3,1.35]}}}}
      ]
    },
    {
      "width": 959,
      "height": 270,
      "layer": [
        {"data": {"name": "b1lab"}, "transform": [{"filter": "datum.group == 'major' || datum.group == 'novel'"}],
         "mark": {"type": "point", "shape": "M-1.086,-1H1.086V1H-1.086Z", "size": 1225, "filled": true, "fill": "white", "strokeWidth": 3, "opacity": 1},
         "encoding": {"x": {"field": "t", "type": "quantitative", "axis": {"values": [7,8,9,10,11,12,13,14,15,16,17,18,19,20]}},
           "y": {"field": "v", "type": "quantitative", "axis": {"values": [0,200000,400000,600000,800000,1000000,1200000,1400000,1600000,1800000,2000000,2200000,2400000,2600000,2800000,3000000]}},
           "stroke": {"field": "group", "type": "nominal", "scale": {"domain": ["major", "novel"], "range": ["#f8b500", "#18a04a"]}, "legend": null}}},
        {"data": {"name": "b1tr"}, "transform": [{"filter": "datum.s != 'M4 (2)'"}],
         "mark": {"type": "line", "interpolate": "monotone", "strokeWidth": 1.4},
         "encoding": {
           "x": {"field": "t", "type": "quantitative",
             "scale": {"domain": [5.323, 20.214], "nice": false, "zero": false},
             "axis": {"values": [7,8,9,10,11,12,13,14,15,16,17,18,19,20],
               "labelExpr": "join(split(format(datum.value, '.1f'), ''), ' ')",
               "title": null, "domain": false, "tickSize": 2, "tickColor": "#999", "labelFont": "DejaVu Sans", "labelFontSize": 8, "labelColor": "#777",
               "labelPadding": 0, "labelFlush": false, "grid": false}},
           "y": {"field": "v", "type": "quantitative",
             "scale": {"domain": [-22800, 3057000], "nice": false, "zero": false},
             "axis": {"values": [0,200000,400000,600000,800000,1000000,1200000,1400000,1600000,1800000,2000000,2200000,2400000,2600000,2800000,3000000],
               "labelExpr": "datum.value == 0 ? '0\u2002.\u20020' : join(split(replace(format(datum.value, '.1e'), '+', ''), ''), '\u2002')",
               "title": "Intensity, cps", "titleFontSize": 8, "titleFontWeight": "normal", "titleColor": "#777", "titlePadding": 16,
               "offset": -46, "domainColor": "#999", "tickSize": 3, "tickColor": "#999", "labelFont": "DejaVu Sans", "labelFontSize": 8, "labelColor": "#777",
               "labelPadding": 2, "labelFlush": false, "grid": false}},
           "color": {"field": "s", "type": "nominal",
             "scale": {"domain": ["M2","M4","M4 (2)","ISTD","SR9009","SR9009 (2)","SR9009 (3)"],
                       "range": ["#c6c68a","#5858d4","#3f9a8c","#cdcd8e","#f27a7a","#4d4dd0","#7ab87a"]},
             "legend": null}}},
        {"data": {"name": "b1tr"}, "transform": [{"filter": "datum.s == 'M4 (2)'"}],
         "mark": {"type": "line", "interpolate": "monotone", "strokeWidth": 1.4, "strokeDash": [3, 2]},
         "encoding": {"x": {"field": "t", "type": "quantitative", "axis": {"values": [7,8,9,10,11,12,13,14,15,16,17,18,19,20]}},
           "y": {"field": "v", "type": "quantitative", "axis": {"values": [0,200000,400000,600000,800000,1000000,1200000,1400000,1600000,1800000,2000000,2200000,2400000,2600000,2800000,3000000]}},
           "color": {"field": "s", "type": "nominal", "legend": null}}},
        {"data": {"values": [{}]}, "mark": {"type": "rule", "color": "#666", "strokeWidth": 1.5},
         "encoding": {"x": {"datum": 6.037, "type": "quantitative", "axis": {"values": [7,8,9,10,11,12,13,14,15,16,17,18,19,20]}}, "x2": {"datum": 20.04},
           "y": {"datum": -22800, "type": "quantitative", "axis": {"values": [0,200000,400000,600000,800000,1000000,1200000,1400000,1600000,1800000,2000000,2200000,2400000,2600000,2800000,3000000]}}}},
        {"data": {"name": "b1lab"},
         "mark": {"type": "text", "font": "Lato", "fontWeight": "bold", "fontSize": 15, "color": "#111"},
         "encoding": {"x": {"field": "t", "type": "quantitative", "axis": {"values": [7,8,9,10,11,12,13,14,15,16,17,18,19,20]}},
           "y": {"field": "v", "type": "quantitative", "axis": {"values": [0,200000,400000,600000,800000,1000000,1200000,1400000,1600000,1800000,2000000,2200000,2400000,2600000,2800000,3000000]}},
           "text": {"field": "label", "type": "nominal"}}},
        {"data": {"name": "b1note"}, "transform": [{"filter": "datum.kind == 'header'"}],
         "mark": {"type": "text", "align": "left", "fontSize": 6, "color": "#8a8a8a"},
         "encoding": {"x": {"field": "t", "type": "quantitative", "axis": {"values": [7,8,9,10,11,12,13,14,15,16,17,18,19,20]}},
           "y": {"field": "v", "type": "quantitative", "axis": {"values": [0,200000,400000,600000,800000,1000000,1200000,1400000,1600000,1800000,2000000,2200000,2400000,2600000,2800000,3000000]}},
           "text": {"field": "text", "type": "nominal"}}},
        {"data": {"name": "b1note"}, "transform": [{"filter": "datum.kind == 'max'"}],
         "mark": {"type": "text", "align": "right", "fontSize": 5.5, "color": "#8a8a8a"},
         "encoding": {"x": {"field": "t", "type": "quantitative", "axis": {"values": [7,8,9,10,11,12,13,14,15,16,17,18,19,20]}},
           "y": {"field": "v", "type": "quantitative", "axis": {"values": [0,200000,400000,600000,800000,1000000,1200000,1400000,1600000,1800000,2000000,2200000,2400000,2600000,2800000,3000000]}},
           "text": {"field": "text", "type": "nominal"}}},
        {"data": {"name": "b1note"}, "transform": [{"filter": "datum.kind == 'rt'"}],
         "mark": {"type": "text", "fontSize": 5.5, "color": "#555"},
         "encoding": {"x": {"field": "t", "type": "quantitative", "axis": {"values": [7,8,9,10,11,12,13,14,15,16,17,18,19,20]}},
           "y": {"field": "v", "type": "quantitative", "axis": {"values": [0,200000,400000,600000,800000,1000000,1200000,1400000,1600000,1800000,2000000,2200000,2400000,2600000,2800000,3000000]}},
           "text": {"field": "text", "type": "nominal"}}},
        {"data": {"name": "b1note"}, "transform": [{"filter": "datum.kind == 'axis'"}],
         "mark": {"type": "text", "font": "DejaVu Sans", "fontSize": 7.5, "color": "#777"},
         "encoding": {"x": {"field": "t", "type": "quantitative", "axis": {"values": [7,8,9,10,11,12,13,14,15,16,17,18,19,20]}},
           "y": {"field": "v", "type": "quantitative", "axis": {"values": [0,200000,400000,600000,800000,1000000,1200000,1400000,1600000,1800000,2000000,2200000,2400000,2600000,2800000,3000000]}},
           "text": {"field": "text", "type": "nominal"}}},
        {"data": {"values": [{}]}, "mark": {"type": "rule", "color": "#c6c6c6", "strokeWidth": 1.5},
         "encoding": {"x": {"datum": 4.795, "type": "quantitative", "axis": {"values": [7,8,9,10,11,12,13,14,15,16,17,18,19,20]}}, "x2": {"datum": 20.214},
           "y": {"datum": 3285000, "type": "quantitative", "axis": {"values": [0,200000,400000,600000,800000,1000000,1200000,1400000,1600000,1800000,2000000,2200000,2400000,2600000,2800000,3000000]}}}},
        {"data": {"values": [{}]}, "mark": {"type": "rule", "color": "#c6c6c6", "strokeWidth": 1.5},
         "encoding": {"x": {"datum": 4.795, "type": "quantitative", "axis": {"values": [7,8,9,10,11,12,13,14,15,16,17,18,19,20]}}, "x2": {"datum": 20.214},
           "y": {"datum": -228000, "type": "quantitative", "axis": {"values": [0,200000,400000,600000,800000,1000000,1200000,1400000,1600000,1800000,2000000,2200000,2400000,2600000,2800000,3000000]}}}},
        {"data": {"values": [{}]}, "mark": {"type": "rule", "color": "#c6c6c6", "strokeWidth": 1.5},
         "encoding": {"x": {"datum": 4.795, "type": "quantitative", "axis": {"values": [7,8,9,10,11,12,13,14,15,16,17,18,19,20]}},
           "y": {"datum": -228000, "type": "quantitative", "axis": {"values": [0,200000,400000,600000,800000,1000000,1200000,1400000,1600000,1800000,2000000,2200000,2400000,2600000,2800000,3000000]}}, "y2": {"datum": 3285000}}},
        {"data": {"values": [{}]}, "mark": {"type": "rule", "color": "#1a1a1a", "strokeWidth": 2},
         "encoding": {"x": {"datum": 4.702, "type": "quantitative", "axis": {"values": [7,8,9,10,11,12,13,14,15,16,17,18,19,20]}}, "x2": {"datum": 20.214},
           "y": {"datum": 3342000, "type": "quantitative", "axis": {"values": [0,200000,400000,600000,800000,1000000,1200000,1400000,1600000,1800000,2000000,2200000,2400000,2600000,2800000,3000000]}}}},
        {"data": {"values": [{}]}, "mark": {"type": "rule", "color": "#1a1a1a", "strokeWidth": 2},
         "encoding": {"x": {"datum": 4.702, "type": "quantitative", "axis": {"values": [7,8,9,10,11,12,13,14,15,16,17,18,19,20]}}, "x2": {"datum": 20.214},
           "y": {"datum": -285000, "type": "quantitative", "axis": {"values": [0,200000,400000,600000,800000,1000000,1200000,1400000,1600000,1800000,2000000,2200000,2400000,2600000,2800000,3000000]}}}},
        {"data": {"values": [{}]}, "mark": {"type": "rule", "color": "#1a1a1a", "strokeWidth": 2},
         "encoding": {"x": {"datum": 4.702, "type": "quantitative", "axis": {"values": [7,8,9,10,11,12,13,14,15,16,17,18,19,20]}},
           "y": {"datum": -285000, "type": "quantitative", "axis": {"values": [0,200000,400000,600000,800000,1000000,1200000,1400000,1600000,1800000,2000000,2200000,2400000,2600000,2800000,3000000]}}, "y2": {"datum": 3342000}}},
        {"data": {"values": [{}]}, "mark": {"type": "text", "text": "(1)", "font": "Liberation Serif", "fontSize": 15, "fontWeight": "bold", "color": "#000"},
         "encoding": {"x": {"datum": 4.252, "type": "quantitative", "axis": {"values": [7,8,9,10,11,12,13,14,15,16,17,18,19,20]}},
           "y": {"datum": 3285000, "type": "quantitative", "axis": {"values": [0,200000,400000,600000,800000,1000000,1200000,1400000,1600000,1800000,2000000,2200000,2400000,2600000,2800000,3000000]}}}},
        {"data": {"values": [{}]}, "mark": {"type": "text", "text": "(A)", "font": "Liberation Serif", "fontSize": 23, "color": "#000"},
         "encoding": {"x": {"datum": 12.575, "type": "quantitative", "axis": {"values": [7,8,9,10,11,12,13,14,15,16,17,18,19,20]}},
           "y": {"datum": 3878000, "type": "quantitative", "axis": {"values": [0,200000,400000,600000,800000,1000000,1200000,1400000,1600000,1800000,2000000,2200000,2400000,2600000,2800000,3000000]}}}}
      ]
    },
    {
      "width": 959,
      "height": 270,
      "layer": [
        {"data": {"name": "b2lab"}, "transform": [{"filter": "datum.group == 'major' || datum.group == 'novel'"}],
         "mark": {"type": "point", "shape": "M-1.086,-1H1.086V1H-1.086Z", "size": 1225, "filled": true, "fill": "white", "strokeWidth": 3, "opacity": 1},
         "encoding": {"x": {"field": "t", "type": "quantitative", "axis": {"values": [7,8,9,10,11,12,13,14,15,16,17,18,19,20]}},
           "y": {"field": "v", "type": "quantitative", "axis": {"values": [0,200000,400000,600000,800000,1000000,1200000,1400000,1600000,1800000,2000000,2200000,2400000,2600000,2800000,3000000,3100000]}},
           "stroke": {"field": "group", "type": "nominal", "scale": {"domain": ["major", "novel"], "range": ["#f8b500", "#18a04a"]}, "legend": null}}},
        {"data": {"name": "b2tr"},
         "mark": {"type": "line", "interpolate": "monotone", "strokeWidth": 1.4},
         "encoding": {
           "x": {"field": "t", "type": "quantitative",
             "scale": {"domain": [5.198, 20.229], "nice": false, "zero": false},
             "axis": {"values": [7,8,9,10,11,12,13,14,15,16,17,18,19,20],
               "labelExpr": "join(split(format(datum.value, '.1f'), ''), ' ')",
               "title": null, "domain": false, "tickSize": 2, "tickColor": "#999", "labelFont": "DejaVu Sans", "labelFontSize": 8, "labelColor": "#777",
               "labelPadding": 0, "labelFlush": false, "grid": false}},
           "y": {"field": "v", "type": "quantitative",
             "scale": {"domain": [-11600, 3116000], "nice": false, "zero": false},
             "axis": {"values": [0,200000,400000,600000,800000,1000000,1200000,1400000,1600000,1800000,2000000,2200000,2400000,2600000,2800000,3000000,3100000],
               "labelExpr": "datum.value == 0 ? '0\u2002.\u20020' : join(split(replace(format(datum.value, '.1e'), '+', ''), ''), '\u2002')",
               "title": "Intensity, cps", "titleFontSize": 8, "titleFontWeight": "normal", "titleColor": "#777", "titlePadding": 16,
               "offset": -47, "domainColor": "#999", "tickSize": 3, "tickColor": "#999", "labelFont": "DejaVu Sans", "labelFontSize": 8, "labelColor": "#777",
               "labelPadding": 2, "labelFlush": false, "grid": false}},
           "color": {"field": "s", "type": "nominal",
             "scale": {"domain": ["M1","M2","M5","M3","M4 (2)","M4","M4 (3)","M9","M6","M7","M11","ISTD","M8","M10","M12","M13","SR9009","SR9009 (2)"],
                       "range": ["#a58ad8","#c9c98a","#c36fd6","#8a7ab8","#27347f","#3fa3a3","#c8a040","#4fb3a8","#c9c9c9","#b0a8c8","#9a7ad0","#cdcd8e","#6a6ad0","#a0a0a0","#a58ad8","#cdcd8e","#f49a9a","#5a5ad0"]},
             "legend": null}}},
        {"data": {"values": [{}]}, "mark": {"type": "rule", "color": "#666", "strokeWidth": 1.5},
         "encoding": {"x": {"datum": 5.935, "type": "quantitative", "axis": {"values": [7,8,9,10,11,12,13,14,15,16,17,18,19,20]}}, "x2": {"datum": 20.04},
           "y": {"datum": -11600, "type": "quantitative", "axis": {"values": [0,200000,400000,600000,800000,1000000,1200000,1400000,1600000,1800000,2000000,2200000,2400000,2600000,2800000,3000000,3100000]}}}},
        {"data": {"name": "b2lab"},
         "mark": {"type": "text", "font": "Lato", "fontWeight": "bold", "fontSize": 15, "color": "#111"},
         "encoding": {"x": {"field": "t", "type": "quantitative", "axis": {"values": [7,8,9,10,11,12,13,14,15,16,17,18,19,20]}},
           "y": {"field": "v", "type": "quantitative", "axis": {"values": [0,200000,400000,600000,800000,1000000,1200000,1400000,1600000,1800000,2000000,2200000,2400000,2600000,2800000,3000000,3100000]}},
           "text": {"field": "label", "type": "nominal"}}},
        {"data": {"name": "b2note"}, "transform": [{"filter": "datum.kind == 'header'"}],
         "mark": {"type": "text", "align": "left", "fontSize": 6, "color": "#8a8a8a"},
         "encoding": {"x": {"field": "t", "type": "quantitative", "axis": {"values": [7,8,9,10,11,12,13,14,15,16,17,18,19,20]}},
           "y": {"field": "v", "type": "quantitative", "axis": {"values": [0,200000,400000,600000,800000,1000000,1200000,1400000,1600000,1800000,2000000,2200000,2400000,2600000,2800000,3000000,3100000]}},
           "text": {"field": "text", "type": "nominal"}}},
        {"data": {"name": "b2note"}, "transform": [{"filter": "datum.kind == 'axis'"}],
         "mark": {"type": "text", "font": "DejaVu Sans", "fontSize": 7.5, "color": "#777"},
         "encoding": {"x": {"field": "t", "type": "quantitative", "axis": {"values": [7,8,9,10,11,12,13,14,15,16,17,18,19,20]}},
           "y": {"field": "v", "type": "quantitative", "axis": {"values": [0,200000,400000,600000,800000,1000000,1200000,1400000,1600000,1800000,2000000,2200000,2400000,2600000,2800000,3000000,3100000]}},
           "text": {"field": "text", "type": "nominal"}}},
        {"data": {"values": [{}]}, "mark": {"type": "rule", "color": "#c6c6c6", "strokeWidth": 1.5},
         "encoding": {"x": {"datum": 4.681, "type": "quantitative", "axis": {"values": [7,8,9,10,11,12,13,14,15,16,17,18,19,20]}}, "x2": {"datum": 20.229},
           "y": {"datum": 3336000, "type": "quantitative", "axis": {"values": [0,200000,400000,600000,800000,1000000,1200000,1400000,1600000,1800000,2000000,2200000,2400000,2600000,2800000,3000000,3100000]}}}},
        {"data": {"values": [{}]}, "mark": {"type": "rule", "color": "#c6c6c6", "strokeWidth": 1.5},
         "encoding": {"x": {"datum": 4.681, "type": "quantitative", "axis": {"values": [7,8,9,10,11,12,13,14,15,16,17,18,19,20]}}, "x2": {"datum": 20.229},
           "y": {"datum": -197000, "type": "quantitative", "axis": {"values": [0,200000,400000,600000,800000,1000000,1200000,1400000,1600000,1800000,2000000,2200000,2400000,2600000,2800000,3000000,3100000]}}}},
        {"data": {"values": [{}]}, "mark": {"type": "rule", "color": "#c6c6c6", "strokeWidth": 1.5},
         "encoding": {"x": {"datum": 4.681, "type": "quantitative", "axis": {"values": [7,8,9,10,11,12,13,14,15,16,17,18,19,20]}},
           "y": {"datum": -197000, "type": "quantitative", "axis": {"values": [0,200000,400000,600000,800000,1000000,1200000,1400000,1600000,1800000,2000000,2200000,2400000,2600000,2800000,3000000,3100000]}}, "y2": {"datum": 3336000}}},
        {"data": {"values": [{}]}, "mark": {"type": "rule", "color": "#27335f", "strokeWidth": 2},
         "encoding": {"x": {"datum": 4.587, "type": "quantitative", "axis": {"values": [7,8,9,10,11,12,13,14,15,16,17,18,19,20]}}, "x2": {"datum": 20.229},
           "y": {"datum": 3394000, "type": "quantitative", "axis": {"values": [0,200000,400000,600000,800000,1000000,1200000,1400000,1600000,1800000,2000000,2200000,2400000,2600000,2800000,3000000,3100000]}}}},
        {"data": {"values": [{}]}, "mark": {"type": "rule", "color": "#27335f", "strokeWidth": 2},
         "encoding": {"x": {"datum": 4.587, "type": "quantitative", "axis": {"values": [7,8,9,10,11,12,13,14,15,16,17,18,19,20]}}, "x2": {"datum": 20.229},
           "y": {"datum": -266000, "type": "quantitative", "axis": {"values": [0,200000,400000,600000,800000,1000000,1200000,1400000,1600000,1800000,2000000,2200000,2400000,2600000,2800000,3000000,3100000]}}}},
        {"data": {"values": [{}]}, "mark": {"type": "rule", "color": "#27335f", "strokeWidth": 2},
         "encoding": {"x": {"datum": 4.587, "type": "quantitative", "axis": {"values": [7,8,9,10,11,12,13,14,15,16,17,18,19,20]}},
           "y": {"datum": -266000, "type": "quantitative", "axis": {"values": [0,200000,400000,600000,800000,1000000,1200000,1400000,1600000,1800000,2000000,2200000,2400000,2600000,2800000,3000000,3100000]}}, "y2": {"datum": 3394000}}},
        {"data": {"values": [{}]}, "mark": {"type": "text", "text": "(2)", "font": "Liberation Serif", "fontSize": 15, "fontWeight": "bold", "color": "#000"},
         "encoding": {"x": {"datum": 4.117, "type": "quantitative", "axis": {"values": [7,8,9,10,11,12,13,14,15,16,17,18,19,20]}},
           "y": {"datum": 3394000, "type": "quantitative", "axis": {"values": [0,200000,400000,600000,800000,1000000,1200000,1400000,1600000,1800000,2000000,2200000,2400000,2600000,2800000,3000000,3100000]}}}},
        {"data": {"values": [{}]}, "mark": {"type": "text", "text": "(B)", "font": "Liberation Serif", "fontSize": 23, "color": "#000"},
         "encoding": {"x": {"datum": 12.518, "type": "quantitative", "axis": {"values": [7,8,9,10,11,12,13,14,15,16,17,18,19,20]}},
           "y": {"datum": -625500, "type": "quantitative", "axis": {"values": [0,200000,400000,600000,800000,1000000,1200000,1400000,1600000,1800000,2000000,2200000,2400000,2600000,2800000,3000000,3100000]}}}}
      ]
    }
  ]
}
